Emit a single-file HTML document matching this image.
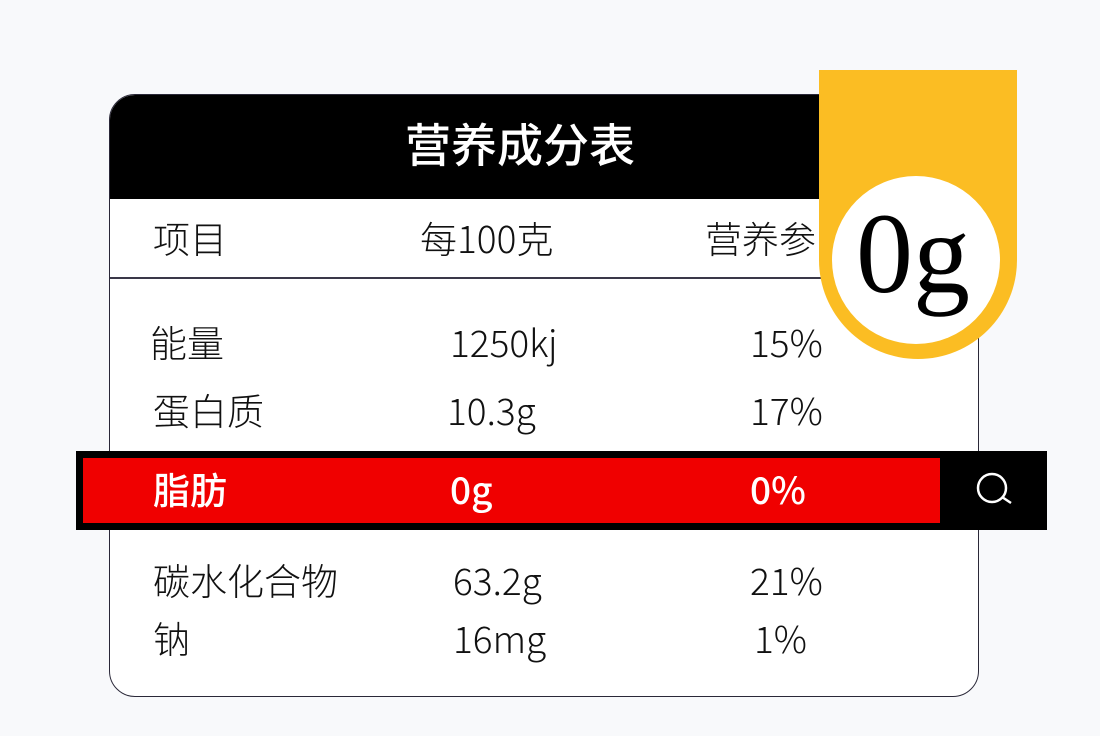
<!DOCTYPE html>
<html><head><meta charset="utf-8"><style>
body{margin:0;width:1100px;height:736px;background:#f8f9fb;position:relative;overflow:hidden;font-family:"Liberation Sans","Noto Sans CJK SC",sans-serif;}
.a{position:absolute}
.t{position:absolute;font-size:37px;line-height:38px;color:#111;white-space:nowrap;font-weight:300;font-family:"Noto Sans CJK SC","Liberation Sans",sans-serif;}
.w{color:#fff;font-weight:bold}
</style></head><body>
<div class="a" style="left:109px;top:94px;width:868px;height:601px;border:1.5px solid #2a2838;border-radius:26px;background:#fff;overflow:hidden">
  <div class="a" style="left:0;top:0;width:100%;height:104px;background:#000"></div>
  <div class="a" style="left:0;top:182px;width:100%;height:1.5px;background:#3a3848"></div>
</div>
<div class="t w" style="left:405px;top:118px;font-size:46px;line-height:50px;font-weight:500">营养成分表</div>
<div class="t" style="left:153px;top:218px">项目</div>
<div class="t" style="left:420px;top:218px">每100克</div>
<div class="t" style="left:705px;top:218px">营养参</div>
<div class="t" style="left:150px;top:322px">能量</div>
<div class="t" style="left:450px;top:322px">1250kj</div>
<div class="t" style="left:750px;top:322px">15%</div>
<div class="t" style="left:153px;top:390px">蛋白质</div>
<div class="t" style="left:447px;top:390px">10.3g</div>
<div class="t" style="left:750px;top:390px">17%</div>
<div class="a" style="left:76px;top:451px;width:971px;height:79px;background:#000"></div>
<div class="a" style="left:83px;top:458px;width:857px;height:65px;background:#f00000"></div>
<div class="t w" style="left:153px;top:469px;font-weight:500">脂肪</div>
<div class="t w" style="left:450px;top:469px;font-weight:500">0g</div>
<div class="t w" style="left:750px;top:469px;font-weight:500">0%</div>
<svg class="a" style="left:965px;top:465px" width="60" height="50"><circle cx="27" cy="23" r="14" fill="none" stroke="#fff" stroke-width="2.5"/><line x1="37" y1="32" x2="46" y2="38" stroke="#fff" stroke-width="2.5"/></svg>
<div class="t" style="left:153px;top:560px">碳水化合物</div>
<div class="t" style="left:453px;top:560px">63.2g</div>
<div class="t" style="left:750px;top:560px">21%</div>
<div class="t" style="left:153px;top:618px">钠</div>
<div class="t" style="left:453px;top:618px">16mg</div>
<div class="t" style="left:754px;top:618px">1%</div>
<svg class="a" style="left:0;top:0" width="1100" height="736">
<path d="M819 70 H1017 V260 A99 99 0 0 1 819 260 Z" fill="#fbbd23"/>
<circle cx="916" cy="260" r="84" fill="#fff"/>
<text x="913" y="292" text-anchor="middle" font-family="Liberation Serif, serif" font-size="114" fill="#000">0g</text>
</svg>
</body></html>
